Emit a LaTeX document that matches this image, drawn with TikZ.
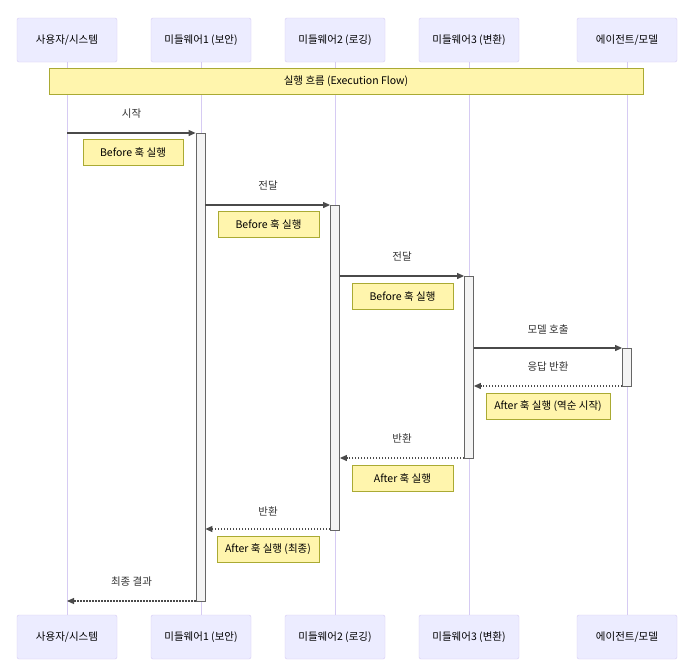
\documentclass[tikz,border=0pt]{standalone}
\usepackage{fontspec}
\setmainfont{Noto Sans CJK KR}
\usetikzlibrary{arrows.meta}
\definecolor{actfill}{HTML}{ECECFF}
\definecolor{actline}{HTML}{D6CBF3}
\definecolor{notefill}{HTML}{FFF5AD}
\definecolor{noteline}{HTML}{AAAA33}
\definecolor{sig}{HTML}{333333}
\definecolor{sigline}{HTML}{4A4A4A}
\definecolor{actvfill}{HTML}{F4F4F4}
\definecolor{actvline}{HTML}{666666}
\tikzset{
  actor/.style={draw=actline, fill=actfill, rounded corners=2pt, minimum width=100, minimum height=44, inner sep=0pt, font=\fontsize{10.5}{12}\selectfont, text=black},
  note/.style={draw=noteline, fill=notefill, minimum height=26, inner sep=0pt, font=\fontsize{10.5}{12}\selectfont, text=black},
  life/.style={draw=actline, line width=0.8pt},
  actv/.style={draw=actvline, fill=actvfill, line width=0.8pt, minimum width=9, inner sep=0pt},
  msg/.style={draw=sigline, line width=1.1pt, -{Triangle[length=7pt,width=6pt]}},
  reply/.style={msg, dash pattern=on 1.6pt off 1.4pt},
  lbl/.style={font=\fontsize{10.5}{12}\selectfont, text=sig, inner sep=0pt}
}
\begin{document}
\begin{tikzpicture}[x=1pt,y=-1pt]
\useasboundingbox[fill=white] (0,0) rectangle (697,667);
% actors top
\node[actor] (u) at (67,40) {사용자/시스템};
\node[actor] (m1) at (201,40) {미들웨어1 (보안)};
\node[actor] (m2) at (335,40) {미들웨어2 (로깅)};
\node[actor] (m3) at (469,40) {미들웨어3 (변환)};
\node[actor] (ag) at (627,40) {에이전트/모델};
% actors bottom
\node[actor] (ub) at (67,637) {사용자/시스템};
\node[actor] (m1b) at (201,637) {미들웨어1 (보안)};
\node[actor] (m2b) at (335,637) {미들웨어2 (로깅)};
\node[actor] (m3b) at (469,637) {미들웨어3 (변환)};
\node[actor] (agb) at (627,637) {에이전트/모델};
% lifelines
\draw[life] (u.south) -- (ub.north);
\draw[life] (m1.south) -- (m1b.north);
\draw[life] (m2.south) -- (m2b.north);
\draw[life] (m3.south) -- (m3b.north);
\draw[life] (ag.south) -- (agb.north);
% execution flow note
\node[note, minimum width=594, minimum height=26] (flow) at (346,81) {실행 흐름 (Execution Flow)};
% activations
\node[actv, minimum height=468] (a1) at (200.5,367) {};
\node[actv, minimum height=325] (a2) at (335,367.5) {};
\node[actv, minimum height=182] (a3) at (469,367) {};
\node[actv, minimum height=38] (a4) at (627,367) {};
% message anchor points
\coordinate (s1) at (67,133);
\coordinate (e1) at (a1.west |- 0,133);
\coordinate (s2) at (a1.east |- 0,205);
\coordinate (e2) at (a2.west |- 0,205);
\coordinate (s3) at (a2.east |- 0,276);
\coordinate (e3) at (a3.west |- 0,276);
\coordinate (s4) at (a3.east |- 0,348);
\coordinate (e4) at (a4.west |- 0,348);
\coordinate (s5) at (a4.west |- 0,386);
\coordinate (e5) at (a3.east |- 0,386);
\coordinate (s6) at (a3.west |- 0,458);
\coordinate (e6) at (a2.east |- 0,458);
\coordinate (s7) at (a2.west |- 0,529);
\coordinate (e7) at (a1.east |- 0,529);
\coordinate (s8) at (a1.west |- 0,601);
\coordinate (e8) at (67,601);
% messages
\draw[msg] (s1) -- (e1);
\node[lbl] (l1) at (131.5,114) {시작};
\draw[msg] (s2) -- (e2);
\node[lbl] (l2) at (268,186) {전달};
\draw[msg] (s3) -- (e3);
\node[lbl] (l3) at (402,257) {전달};
\draw[msg] (s4) -- (e4);
\node[lbl] (l4) at (548,329) {모델 호출};
\draw[reply] (s5) -- (e5);
\node[lbl] (l5) at (548,367) {응답 반환};
\draw[reply] (s6) -- (e6);
\node[lbl] (l6) at (402,438) {반환};
\draw[reply] (s7) -- (e7);
\node[lbl] (l7) at (268,511) {반환};
\draw[reply] (s8) -- (e8);
\node[lbl] (l8) at (131.5,582) {최종 결과};
% notes
\node[note, minimum width=100] (n1) at (133,152.5) {Before 훅 실행};
\node[note, minimum width=101] (n2) at (268.5,224) {Before 훅 실행};
\node[note, minimum width=101] (n3) at (402.5,296) {Before 훅 실행};
\node[note, minimum width=124] (n4) at (548,406.5) {After 훅 실행 (역순 시작)};
\node[note, minimum width=101] (n5) at (402.5,478) {After 훅 실행};
\node[note, minimum width=102] (n6) at (268,549.5) {After 훅 실행 (최종)};
\end{tikzpicture}
\end{document}
